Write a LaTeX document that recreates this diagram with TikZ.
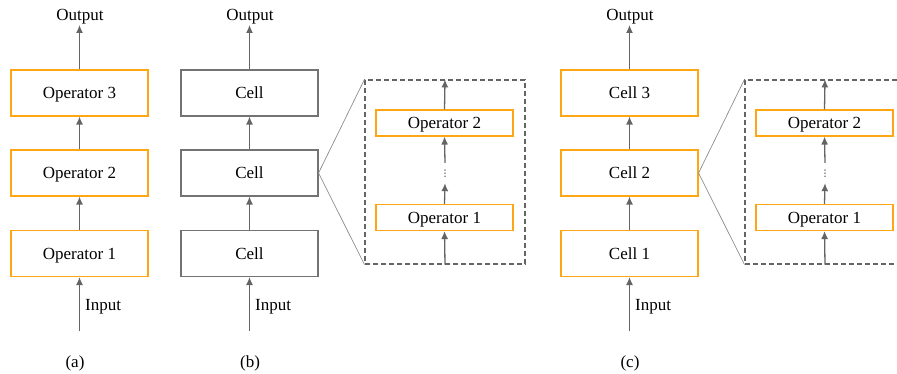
\documentclass[tikz,border=0pt]{standalone}
\usepackage{fontspec}
\setmainfont{Liberation Serif}
\newfontfamily\dejavu{DejaVu Sans}
\usetikzlibrary{arrows.meta}
\definecolor{orangeC}{RGB}{255,166,20}
\definecolor{cellC}{RGB}{115,115,115}
\definecolor{arrC}{RGB}{100,100,100}
\definecolor{dashC}{RGB}{100,100,100}
\definecolor{linkC}{RGB}{140,140,140}
\begin{document}
\begin{tikzpicture}[x=1pt,y=-1pt,
  every node/.style={font=\fontsize{17}{20}\selectfont, text height=11.3pt, text depth=0pt},
  opbox/.style={draw=orangeC, line width=1.1pt, minimum width=137pt, minimum height=46pt, inner sep=0pt},
  cellbox/.style={draw=cellC, line width=1.1pt, minimum width=137pt, minimum height=46pt, inner sep=0pt},
  smallop/.style={opbox, minimum height=26pt},
  dashbox/.style={draw=dashC, dash pattern=on 5pt off 3pt, line width=1.1pt, minimum width=160pt, minimum height=184pt, inner sep=0pt},
  arr/.style={draw=arrC, line width=1.3pt, -{Latex[length=8pt,width=7pt]}},
  thin link/.style={draw=linkC, line width=0.7pt},
  lbl/.style={inner sep=0pt},
  dotsn/.style={inner sep=0pt, minimum height=20pt, text height=8pt, text depth=0pt, font=\dejavu\fontsize{9}{9}\selectfont}
]
\clip (0,0) rectangle (897,374);
% ---------- (a)
\node[opbox] (a3) at (79.5,93) {Operator 3};
\node[opbox] (a2) at (79.5,173) {Operator 2};
\node[opbox] (a1) at (79.5,253.5) {Operator 1};
\node[lbl] (aout) at (80,15) {Output};
\coordinate (aoutp) at (79.5,25);
\coordinate (ain) at (79.5,331);
\node[lbl, anchor=west] (ainl) at (85,305) {Input};
\node[lbl] (acap) at (75,361.5) {(a)};
\draw[arr] (a3.north) -- (aoutp);
\draw[arr] (a2.north) -- (a3.south);
\draw[arr] (a1.north) -- (a2.south);
\draw[arr] (ain) -- (a1.south);
% ---------- (b)
\node[cellbox] (b3) at (249.5,93) {Cell};
\node[cellbox] (b2) at (249.5,173) {Cell};
\node[cellbox] (b1) at (249.5,253.5) {Cell};
\node[lbl] (bout) at (250,15) {Output};
\coordinate (boutp) at (249.5,25);
\coordinate (bin) at (249.5,331);
\node[lbl, anchor=west] (binl) at (255,305) {Input};
\node[lbl] (bcap) at (250,361.5) {(b)};
\draw[arr] (b3.north) -- (boutp);
\draw[arr] (b2.north) -- (b3.south);
\draw[arr] (b1.north) -- (b2.south);
\draw[arr] (bin) -- (b1.south);
% zoom (b)
\node[dashbox] (bd) at (445,172) {};
\node[smallop] (bo2) at (444.5,123) {Operator 2};
\node[smallop] (bo1) at (444.5,217.5) {Operator 1};
\node[dotsn] (bdots) at (445,173) {⋮};
\draw[arr] (bd.south) -- (bo1.south);
\draw[arr] (bo1.north) -- (bdots.south);
\draw[arr] (bdots.north) -- (bo2.south);
\draw[arr] (bo2.north) -- (bd.north);
\draw[thin link] (b2.east) -- (bd.north west);
\draw[thin link] (b2.east) -- (bd.south west);
% ---------- (c)
\node[opbox] (c3) at (629.5,93) {Cell 3};
\node[opbox] (c2) at (629.5,173) {Cell 2};
\node[opbox] (c1) at (629.5,253.5) {Cell 1};
\node[lbl] (cout) at (630,15) {Output};
\coordinate (coutp) at (629.5,25);
\coordinate (cin) at (629.5,331);
\node[lbl, anchor=west] (cinl) at (635,305) {Input};
\node[lbl] (ccap) at (630,361.5) {(c)};
\draw[arr] (c3.north) -- (coutp);
\draw[arr] (c2.north) -- (c3.south);
\draw[arr] (c1.north) -- (c2.south);
\draw[arr] (cin) -- (c1.south);
% zoom (c)
\node[dashbox] (cd) at (825,172) {};
\node[smallop] (co2) at (824.5,123) {Operator 2};
\node[smallop] (co1) at (824.5,217.5) {Operator 1};
\node[dotsn] (cdots) at (825,173) {⋮};
\draw[arr] (cd.south) -- (co1.south);
\draw[arr] (co1.north) -- (cdots.south);
\draw[arr] (cdots.north) -- (co2.south);
\draw[arr] (co2.north) -- (cd.north);
\draw[thin link] (c2.east) -- (cd.north west);
\draw[thin link] (c2.east) -- (cd.south west);
\end{tikzpicture}
\end{document}
